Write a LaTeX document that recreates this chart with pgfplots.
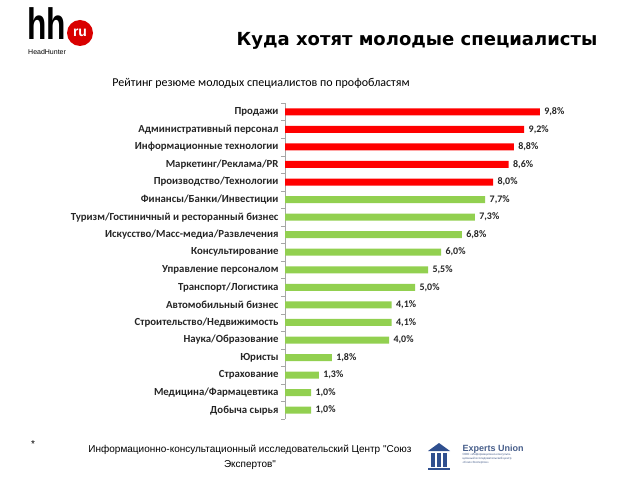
\documentclass[border=0pt]{standalone}
\usepackage{pgfplots}
\pgfplotsset{compat=1.18}
\usepackage{fontspec}
\setmainfont{Carlito}
\newfontfamily\titlefont{DejaVu Sans}
\newfontfamily\arialfont{Liberation Sans}
\definecolor{barred}{HTML}{FF0000}
\definecolor{bargreen}{HTML}{92D050}
\definecolor{eublue}{HTML}{2F4F8F}
\begin{document}
\begin{tikzpicture}
\path[use as bounding box] (0pt,0pt) rectangle (640pt,480pt);
\begin{scope}[x=1pt,y=1pt]
% header
\node[anchor=base west,font=\arialfont\bfseries\fontsize{44}{44}\selectfont,inner sep=0,text depth=0pt,xscale=0.72] at (27,440) {hh};
\fill[red!85!black] (80,447) circle (13);
\node[font=\arialfont\bfseries\fontsize{14}{14}\selectfont,text=white] at (80,447) {ru};
\node[anchor=base west,font=\arialfont\fontsize{7}{7}\selectfont,inner sep=0,text height=5pt] at (28,425) {HeadHunter};
\node[font=\titlefont\bfseries\fontsize{18}{18}\selectfont] at (417,439) {Куда хотят молодые специалисты};
\node[font=\fontsize{12}{12}\selectfont] at (261,397) {Рейтинг резюме молодых специалистов по профобластям};
% footer
\node[font=\arialfont\fontsize{10}{10}\selectfont] at (33,36) {*};
\node[font=\arialfont\fontsize{10}{15}\selectfont, align=center] at (250,23) {Информационно-консультационный исследовательский Центр "Союз\\Экспертов"};
% Experts Union logo
\fill[eublue] (428,29) -- (439,37) -- (450,29) -- cycle;
\foreach \xx in {431,437,443} {\fill[eublue] (\xx,13) rectangle (\xx+4,27);}
\fill[eublue] (428,10) rectangle (450,12);
\node[anchor=west,font=\arialfont\bfseries\fontsize{9}{9}\selectfont,text=eublue!70!gray] at (459,31) {Experts Union};
\node[anchor=west,font=\arialfont\fontsize{3}{4}\selectfont,text=eublue!70!gray,align=left] at (459,21) {ООО «Информационно-консульта-\\ционный исследовательский центр\\«Союз Экспертов»};
\end{scope}
\begin{axis}[
  at={(285pt,61pt)}, anchor=south west,
  scale only axis, width=312pt, height=316pt,
  xbar, bar width=7pt, bar shift=0pt,
  xmin=0, xmax=12, ymin=-0.5, ymax=17.5, y dir=reverse,
  axis x line=none, axis y line*=left,
  axis line style={gray!70},
  ytick={0,...,17},
  yticklabels={Продажи,Административный персонал,Информационные технологии,Маркетинг/Реклама/PR,Производство/Технологии,Финансы/Банки/Инвестиции,Туризм/Гостиничный и ресторанный бизнес,Искусство/Масс-медиа/Развлечения,Консультирование,Управление персоналом,Транспорт/Логистика,Автомобильный бизнес,Строительство/Недвижимость,Наука/Образование,Юристы,Страхование,Медицина/Фармацевтика,Добыча сырья},
  major tick length=0pt,
  minor ytick={-0.5,0.5,...,17.5},
  minor tick length=4pt, tick align=outside,
  minor tick style={gray!70},
  yticklabel style={font=\bfseries\fontsize{10.8}{11}\selectfont, text=black!85, xshift=-3pt},
  /pgf/number format/assume math mode=true,
  nodes near coords={\pgfmathprintnumber[fixed,fixed zerofill,precision=1,use comma,assume math mode=true]{\pgfplotspointmeta}\%},
  nodes near coords style={font=\bfseries\fontsize{10}{11}\selectfont, text=black!85, anchor=west, xshift=1pt},
  clip=false,
]
\addplot[fill=barred, draw=none] coordinates {(9.8,0) (9.2,1) (8.8,2) (8.6,3) (8.0,4)};
\addplot[fill=bargreen, draw=none] coordinates {(7.7,5) (7.3,6) (6.8,7) (6.0,8) (5.5,9) (5.0,10) (4.1,11) (4.1,12) (4.0,13) (1.8,14) (1.3,15) (1.0,16) (1.0,17)};
\end{axis}
\end{tikzpicture}
\end{document}
